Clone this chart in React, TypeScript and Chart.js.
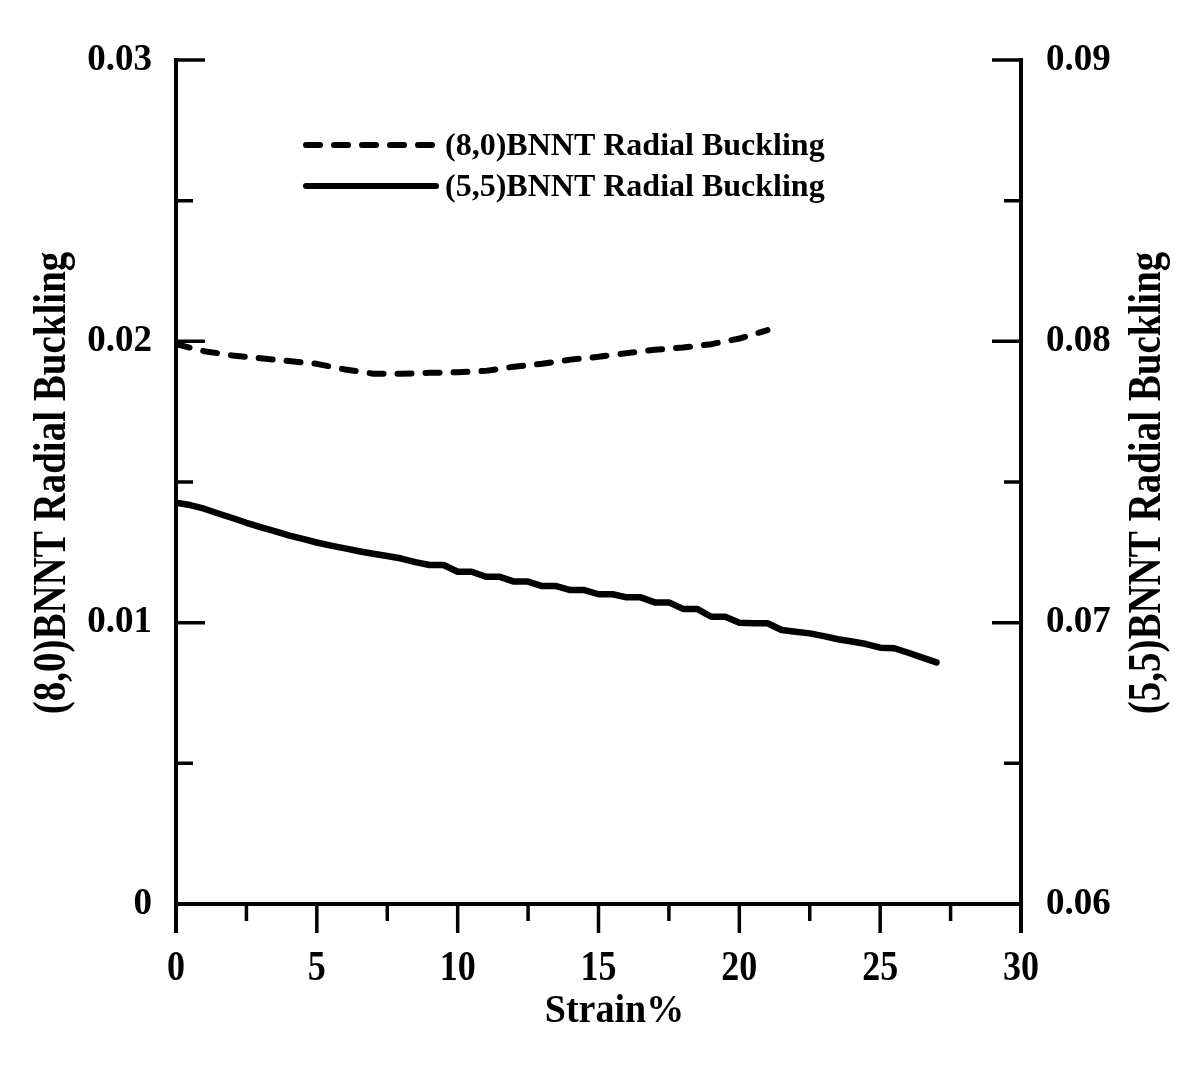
import React, { useEffect, useRef } from 'react';
import { Chart, registerables } from 'chart.js';

Chart.register(...registerables);

// ---- data ----
const strain80 = [0, 1, 2, 3, 4, 5, 6, 7, 8, 9, 10, 11, 12, 13, 14, 15, 16, 17, 18, 19, 20, 21];
const buckling80 = [
  0.0199, 0.01965, 0.0195, 0.0194, 0.0193, 0.0192, 0.019, 0.01885, 0.01885, 0.01888, 0.0189,
  0.01895, 0.0191, 0.0192, 0.01935, 0.01945, 0.01958, 0.0197, 0.01978, 0.0199, 0.0201, 0.0204,
];

const strain55 = [
  0, 0.5, 1, 1.5, 2, 2.5, 3, 3.5, 4, 4.5, 5, 5.5, 6, 6.5, 7, 7.5, 8, 8.5, 9, 9.5, 10, 10.5, 11,
  11.5, 12, 12.5, 13, 13.5, 14, 14.5, 15, 15.5, 16, 16.5, 17, 17.5, 18, 18.5, 19, 19.5, 20, 20.5,
  21, 21.5, 22, 22.5, 23, 23.5, 24, 24.5, 25, 25.5, 26, 26.5, 27,
];
const buckling55 = [
  0.07426, 0.07418, 0.07405, 0.07388, 0.07372, 0.07355, 0.0734, 0.07325, 0.0731, 0.07298, 0.07285,
  0.07274, 0.07264, 0.07254, 0.07245, 0.07237, 0.07228, 0.07215, 0.07205, 0.07205, 0.07181,
  0.07181, 0.07163, 0.07163, 0.07146, 0.07146, 0.0713, 0.0713, 0.07116, 0.07116, 0.07101, 0.07101,
  0.0709, 0.0709, 0.07072, 0.07072, 0.07049, 0.07049, 0.07021, 0.07021, 0.07, 0.06998, 0.06998,
  0.06974, 0.06968, 0.06962, 0.06952, 0.06941, 0.06933, 0.06924, 0.06911, 0.06909, 0.06893,
  0.06876, 0.06859,
];

const seriesLabels = ['(8,0)BNNT Radial Buckling', '(5,5)BNNT Radial Buckling'];
const xTickValues = [0, 5, 10, 15, 20, 25, 30];
const xTickLabels = ['0', '5', '10', '15', '20', '25', '30'];
const yLeftTickValues = [0, 0.01, 0.02, 0.03];
const yLeftTickLabels = ['0', '0.01', '0.02', '0.03'];
const yRightTickValues = [0.06, 0.07, 0.08, 0.09];
const yRightTickLabels = ['0.06', '0.07', '0.08', '0.09'];
const xTitle = 'Strain%';
const yLeftTitle = '(8,0)BNNT Radial Buckling';
const yRightTitle = '(5,5)BNNT Radial Buckling';

const FONT = '"Liberation Serif", "Times New Roman", serif';
const DASH = [14, 14];

// draws text centred at (x, y); `stretch` enlarges glyph height, `rotate` turns it
function drawText(
  ctx: CanvasRenderingContext2D,
  text: string,
  x: number,
  y: number,
  size: number,
  stretch: number,
  rotate: number,
) {
  ctx.save();
  ctx.translate(x, y);
  ctx.rotate(rotate);
  ctx.scale(1, stretch);
  ctx.font = `bold ${size}px ${FONT}`;
  ctx.textAlign = 'center';
  ctx.textBaseline = 'middle';
  ctx.fillText(text, 0, 0);
  ctx.restore();
}

const framePlugin = {
  id: 'frameAndText',
  afterDraw(chart: any) {
    const { ctx, chartArea: a, scales } = chart;
    const sx = scales.x;
    const sy = scales.y;
    const sy2 = scales.y2;
    const MAJOR = 29;
    const MINOR = 17;
    ctx.save();
    ctx.strokeStyle = '#000';
    ctx.fillStyle = '#000';
    ctx.lineCap = 'butt';

    // axis lines
    ctx.lineWidth = 4;
    ctx.beginPath();
    ctx.moveTo(a.left, a.top - 2);
    ctx.lineTo(a.left, a.bottom + MAJOR);
    ctx.moveTo(a.right, a.top - 2);
    ctx.lineTo(a.right, a.bottom + MAJOR);
    ctx.moveTo(a.left, a.bottom);
    ctx.lineTo(a.right, a.bottom);
    ctx.stroke();

    ctx.lineWidth = 3.5;
    ctx.beginPath();
    // x ticks (outward, down)
    xTickValues.forEach((v, i) => {
      const px = sx.getPixelForValue(v);
      ctx.moveTo(px, a.bottom);
      ctx.lineTo(px, a.bottom + MAJOR);
      if (i < xTickValues.length - 1) {
        const mx = sx.getPixelForValue((v + xTickValues[i + 1]) / 2);
        ctx.moveTo(mx, a.bottom);
        ctx.lineTo(mx, a.bottom + MINOR);
      }
    });
    // left y ticks (inward)
    yLeftTickValues.forEach((v, i) => {
      const py = sy.getPixelForValue(v);
      ctx.moveTo(a.left, py);
      ctx.lineTo(a.left + MAJOR, py);
      if (i < yLeftTickValues.length - 1) {
        const my = sy.getPixelForValue((v + yLeftTickValues[i + 1]) / 2);
        ctx.moveTo(a.left, my);
        ctx.lineTo(a.left + MINOR, my);
      }
    });
    // right y ticks (inward)
    yRightTickValues.forEach((v, i) => {
      const py = sy2.getPixelForValue(v);
      ctx.moveTo(a.right, py);
      ctx.lineTo(a.right - MAJOR, py);
      if (i < yRightTickValues.length - 1) {
        const my = sy2.getPixelForValue((v + yRightTickValues[i + 1]) / 2);
        ctx.moveTo(a.right, my);
        ctx.lineTo(a.right - MINOR, my);
      }
    });
    ctx.stroke();

    // x tick labels
    xTickValues.forEach((v, i) => {
      drawText(ctx, xTickLabels[i], sx.getPixelForValue(v), a.bottom + 65, 36, 1.15, 0);
    });

    // axis titles
    drawText(ctx, xTitle, (a.left + a.right) / 2 + 16, 1011, 38, 1.08, 0);
    const midY = (a.top + a.bottom) / 2 + 1;
    drawText(ctx, yLeftTitle, 53, midY, 39, 1.2, -Math.PI / 2);
    drawText(ctx, yRightTitle, 1148, midY, 39, 1.2, -Math.PI / 2);

    // legend
    const legendRows = [
      { y: 145, dash: DASH },
      { y: 186, dash: [] as number[] },
    ];
    ctx.font = `bold 32px ${FONT}`;
    ctx.textAlign = 'left';
    ctx.textBaseline = 'middle';
    legendRows.forEach((row, i) => {
      ctx.lineWidth = 6;
      ctx.lineCap = 'round';
      ctx.setLineDash(row.dash);
      ctx.beginPath();
      ctx.moveTo(306, row.y);
      ctx.lineTo(436, row.y);
      ctx.stroke();
      ctx.setLineDash([]);
      ctx.fillText(chart.data.datasets[i].label, 445, row.y + 2);
    });
    ctx.restore();
  },
};

export default function App() {
  const ref = useRef<HTMLCanvasElement | null>(null);
  useEffect(() => {
    if (!ref.current) return;
    const chart = new Chart(ref.current, {
      type: 'line',
      data: {
        datasets: [
          {
            label: seriesLabels[0],
            data: strain80.map((x, i) => ({ x, y: buckling80[i] })),
            yAxisID: 'y',
            borderColor: '#000',
            borderWidth: 6,
            borderDash: DASH,
            borderCapStyle: 'round',
            borderJoinStyle: 'round',
            pointRadius: 0,
            tension: 0,
            fill: false,
          },
          {
            label: seriesLabels[1],
            data: strain55.map((x, i) => ({ x, y: buckling55[i] })),
            yAxisID: 'y2',
            borderColor: '#000',
            borderWidth: 6.5,
            borderCapStyle: 'round',
            borderJoinStyle: 'round',
            pointRadius: 0,
            tension: 0,
            fill: false,
          },
        ],
      },
      options: {
        responsive: false,
        animation: false,
        devicePixelRatio: 1,
        layout: { padding: { top: 60, left: 0, right: 0, bottom: 0 } },
        plugins: { legend: { display: false }, tooltip: { enabled: false } },
        scales: {
          x: {
            type: 'linear',
            min: 0,
            max: 30,
            grid: { display: false },
            border: { display: false },
            afterBuildTicks: (s: any) => {
              s.ticks = xTickValues.map((value) => ({ value }));
            },
            afterFit: (s: any) => {
              s.height = 166;
            },
            ticks: { display: false },
          },
          y: {
            type: 'linear',
            position: 'left',
            min: 0,
            max: 0.03,
            grid: { display: false },
            border: { display: false },
            afterBuildTicks: (s: any) => {
              s.ticks = yLeftTickValues.map((value) => ({ value }));
            },
            afterFit: (s: any) => {
              s.width = 176;
            },
            ticks: {
              color: '#000',
              font: { family: FONT, size: 37, weight: 'bold' },
              padding: 16,
              autoSkip: false,
              callback: (_v: any, i: number) => yLeftTickLabels[i],
            },
          },
          y2: {
            type: 'linear',
            position: 'right',
            min: 0.06,
            max: 0.09,
            grid: { display: false },
            border: { display: false },
            afterBuildTicks: (s: any) => {
              s.ticks = yRightTickValues.map((value) => ({ value }));
            },
            afterFit: (s: any) => {
              s.width = 179;
            },
            ticks: {
              color: '#000',
              font: { family: FONT, size: 37, weight: 'bold' },
              padding: 17,
              autoSkip: false,
              callback: (_v: any, i: number) => yRightTickLabels[i],
            },
          },
        },
      },
      plugins: [framePlugin],
    } as any);
    return () => chart.destroy();
  }, []);

  return (
    <div style={{ position: 'absolute', left: 0, top: 0, width: 1200, height: 1070, background: '#fff' }}>
      <canvas ref={ref} width={1200} height={1070} style={{ width: 1200, height: 1070 }} />
    </div>
  );
}
